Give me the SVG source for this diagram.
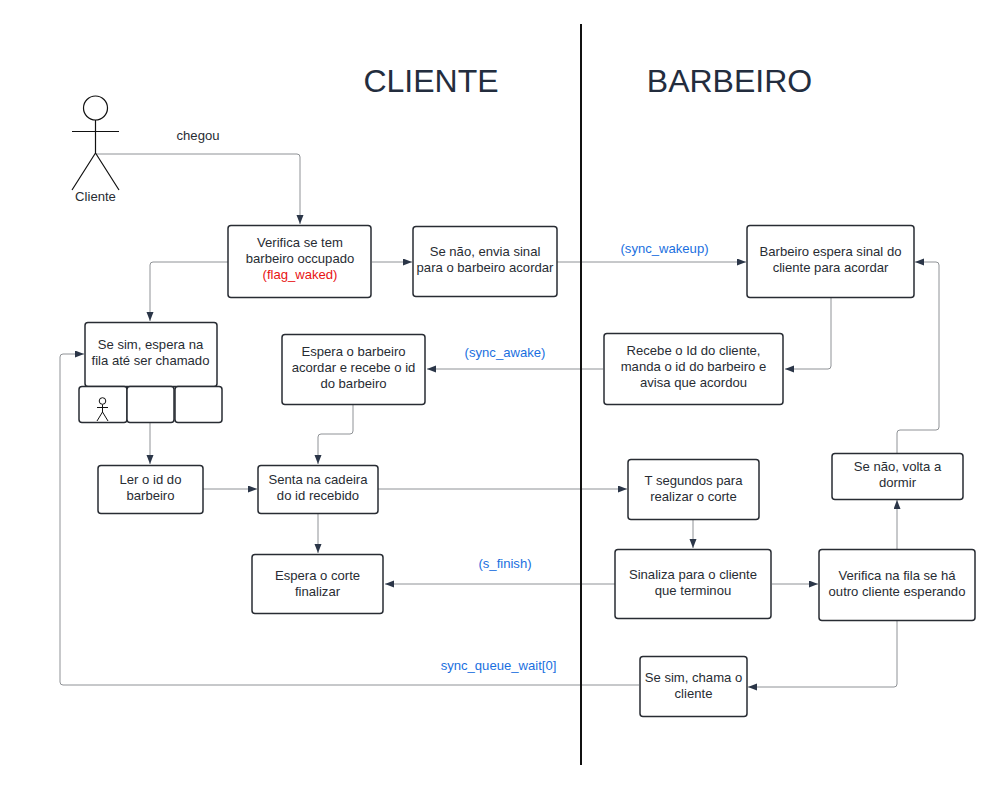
<svg xmlns="http://www.w3.org/2000/svg" width="999" height="788" viewBox="0 0 999 788">
<style>
text{font-family:"Liberation Sans",Arial,sans-serif;font-size:13.100px;fill:#282c33;text-anchor:middle}
.b{fill:#fff;stroke:#282c33;stroke-width:1.5}
.c{fill:none;stroke:#8f9296;stroke-width:1}
.l{fill:#1a6fe0}
.t{font-size:32px;fill:#232d3e}
.a{fill:none;stroke:#111;stroke-width:1.2}
</style>
<defs><marker id="h" markerUnits="userSpaceOnUse" markerWidth="10" markerHeight="8" refX="9" refY="3.500" orient="auto"><path d="M0 0L9 3.500L0 7Z" fill="#2b3648"/></marker></defs>
<rect width="999" height="788" fill="#fff"/>
<g id="connectors">
<path class="c" marker-end="url(#h)" d="M96 154H297Q300 154 300 157V224"/>
<path class="c" marker-end="url(#h)" d="M228 262H153Q150 262 150 265V321"/>
<path class="c" marker-end="url(#h)" d="M372 262H412"/>
<path class="c" marker-end="url(#h)" d="M557 262H746"/>
<path class="c" marker-end="url(#h)" d="M831 298V366Q831 369 828 369H785"/>
<path class="c" marker-end="url(#h)" d="M603 369H427"/>
<path class="c" marker-end="url(#h)" d="M353 405V431Q353 434 350 434H321Q318 434 318 437V464"/>
<path class="c" marker-end="url(#h)" d="M150 423V464"/>
<path class="c" marker-end="url(#h)" d="M203 489H257"/>
<path class="c" marker-end="url(#h)" d="M378 489H627"/>
<path class="c" marker-end="url(#h)" d="M318 514V553"/>
<path class="c" marker-end="url(#h)" d="M693 520V548"/>
<path class="c" marker-end="url(#h)" d="M615 584H385"/>
<path class="c" marker-end="url(#h)" d="M772 584H818"/>
<path class="c" marker-end="url(#h)" d="M897 549V500"/>
<path class="c" marker-end="url(#h)" d="M897 453V433Q897 430 900 430H936Q939 430 939 427V265Q939 262 936 262H915"/>
<path class="c" marker-end="url(#h)" d="M897 621V684Q897 687 894 687H748"/>
<path class="c" marker-end="url(#h)" d="M639 685H63Q60 685 60 682V357Q60 354 63 354H84"/>
</g>
<path d="M581 24V765" stroke="#111" stroke-width="2" fill="none"/>
<text class="t" x="431" y="92">CLIENTE</text>
<text class="t" x="729.500" y="92">BARBEIRO</text>
<g id="actor">
<circle class="a" cx="95.500" cy="108" r="12"/>
<path class="a" d="M95.500 120V153M72 131.500H119M95.500 153L72 190M95.500 153L119 190"/>
<text x="95.500" y="201">Cliente</text>
</g>
<text x="198" y="140">chegou</text>
<g id="n1"><rect class="b" x="228" y="225.500" width="143" height="72" rx="3"/><text x="300" y="247">Verifica se tem</text><text x="300" y="263">barbeiro occupado</text><text x="300" y="279" style="fill:#e81313">(flag_waked)</text></g>
<g id="n2"><rect class="b" x="413" y="226.500" width="144" height="70" rx="3"/><text x="485" y="256">Se não, envia sinal</text><text x="485" y="272">para o barbeiro acordar</text></g>
<g id="n3"><rect class="b" x="747" y="225.500" width="167" height="72" rx="3"/><text x="830.500" y="256">Barbeiro espera sinal do</text><text x="830.500" y="272">cliente para acordar</text></g>
<g id="n4"><rect class="b" x="85" y="322.500" width="132" height="64" rx="3"/><text x="150.500" y="349">Se sim, espera na</text><text x="150.500" y="365">fila até ser chamado</text></g>
<g id="q1"><rect class="b" x="79" y="386.500" width="48" height="36" rx="3"/>
<circle cx="102.500" cy="401" r="3.300" fill="none" stroke="#111"/><path d="M102.500 404.500V412M97 407.500H108M102.500 412L97 421M102.500 412L108 421" fill="none" stroke="#111"/></g>
<g id="q2"><rect class="b" x="127" y="386.500" width="47" height="36" rx="3"/></g>
<g id="q3"><rect class="b" x="175" y="386.500" width="47" height="36" rx="3"/></g>
<g id="n5"><rect class="b" x="282" y="334.500" width="143" height="70" rx="3"/><text x="353.500" y="356">Espera o barbeiro</text><text x="353.500" y="372">acordar e recebe o id</text><text x="353.500" y="388">do barbeiro</text></g>
<g id="n6"><rect class="b" x="604" y="333.500" width="179" height="71" rx="3"/><text x="693.500" y="355">Recebe o Id do cliente,</text><text x="693.500" y="371">manda o id do barbeiro e</text><text x="693.500" y="387">avisa que acordou</text></g>
<g id="n7"><rect class="b" x="98" y="465.500" width="105" height="48" rx="3"/><text x="150.500" y="484">Ler o id do</text><text x="150.500" y="500">barbeiro</text></g>
<g id="n8"><rect class="b" x="258" y="465.500" width="120" height="48" rx="3"/><text x="318" y="484">Senta na cadeira</text><text x="318" y="500">do id recebido</text></g>
<g id="n9"><rect class="b" x="628" y="459.500" width="131" height="60" rx="3"/><text x="693.500" y="485">T segundos para</text><text x="693.500" y="501">realizar o corte</text></g>
<g id="n10"><rect class="b" x="832" y="453.500" width="131" height="46" rx="3"/><text x="897.500" y="471">Se não, volta a</text><text x="897.500" y="487">dormir</text></g>
<g id="n11"><rect class="b" x="252" y="554.500" width="131" height="59" rx="3"/><text x="317.500" y="580">Espera o corte</text><text x="317.500" y="596">finalizar</text></g>
<g id="n12"><rect class="b" x="615" y="549.500" width="156" height="69" rx="3"/><text x="693" y="579">Sinaliza para o cliente</text><text x="693" y="595">que terminou</text></g>
<g id="n13"><rect class="b" x="819" y="549.500" width="156" height="71" rx="3"/><text x="897" y="580">Verifica na fila se há</text><text x="897" y="596">outro cliente esperando</text></g>
<g id="n14"><rect class="b" x="640" y="656.500" width="107" height="60" rx="3"/><text x="693.500" y="682">Se sim, chama o</text><text x="693.500" y="698">cliente</text></g>
<text class="l" x="664.500" y="253">(sync_wakeup)</text>
<text class="l" x="505" y="357">(sync_awake)</text>
<text class="l" x="505" y="568">(s_finish)</text>
<text class="l" x="498.500" y="670">sync_queue_wait[0]</text>
</svg>
